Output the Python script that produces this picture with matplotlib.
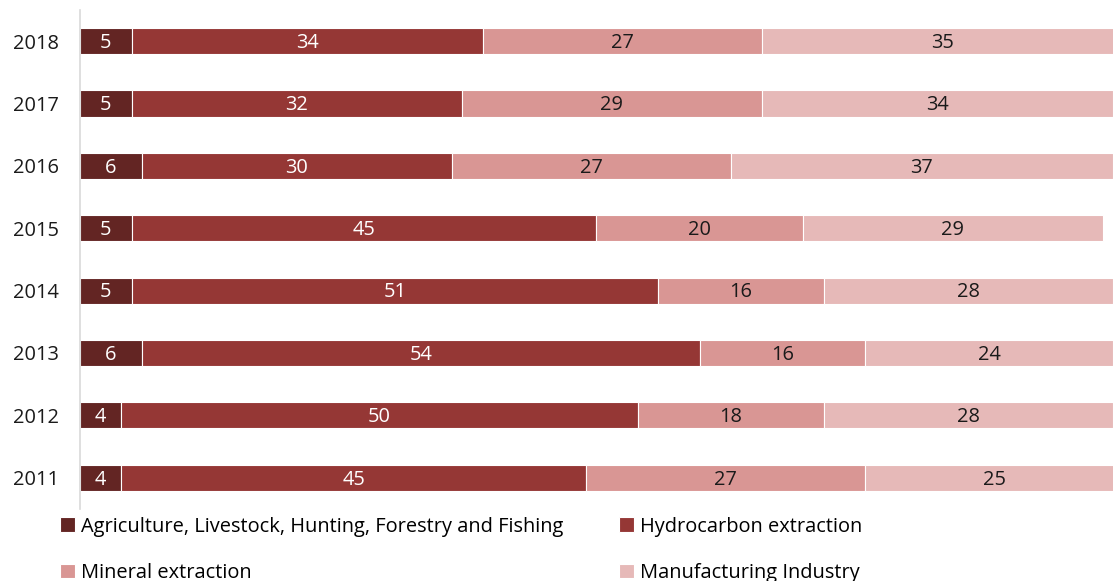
import matplotlib.pyplot as plt
import numpy as np

plt.rcParams['font.family'] = ['Open Sans', 'DejaVu Sans']

years = ['2011', '2012', '2013', '2014', '2015', '2016', '2017', '2018']
agricultura = [4, 4, 6, 5, 5, 6, 5, 5]
hidrocarbonetos = [45, 50, 54, 51, 45, 30, 32, 34]
mineral = [27, 18, 16, 16, 20, 27, 29, 27]
manufatura = [25, 28, 24, 28, 29, 37, 34, 35]

series = [
    ('Agriculture, Livestock, Hunting, Forestry and Fishing', agricultura, '#632523', 'white'),
    ('Hydrocarbon extraction', hidrocarbonetos, '#953735', 'white'),
    ('Mineral extraction', mineral, '#D99694', '#1a1a1a'),
    ('Manufacturing Industry', manufatura, '#E6B9B8', '#1a1a1a'),
]

fs = 14.4

fig = plt.figure(figsize=(11.13, 5.81), dpi=100)
ax = fig.add_axes([0.0719, 0.124, 0.928, 0.859])

y = np.arange(len(years))
left = np.zeros(len(years))
handles = []
for nome, vals, cor, cor_txt in series:
    vals = np.array(vals, dtype=float)
    bars = ax.barh(y, vals, left=left, height=0.42, color=cor, edgecolor='white',
                   linewidth=0.8, label=nome)
    handles.append(bars)
    for b, v in zip(bars, vals):
        ax.text(b.get_x() + b.get_width() / 2, b.get_y() + b.get_height() / 2 - 0.03,
                f'{int(v)}', ha='center', va='center', fontsize=fs, color=cor_txt)
    left += vals

ax.set_xlim(0, 100)
ax.set_ylim(-0.5, 7.5)
ax.set_yticks(y)
ax.set_yticklabels(years, fontsize=fs, color='#1a1a1a')
ax.set_xticks([])
ax.tick_params(axis='y', length=0, pad=15)
for s in ['top', 'right', 'bottom']:
    ax.spines[s].set_visible(False)
ax.spines['left'].set_color('#d9d9d9')
ax.spines['left'].set_linewidth(1.2)

# legenda em duas colunas, preenchida por coluna
ordem = [0, 2, 1, 3]
fig.legend([handles[i] for i in ordem], [series[i][0] for i in ordem],
           loc='upper left', bbox_to_anchor=(0.0536, 0.111), ncol=2, frameon=False,
           fontsize=fs, handlelength=0.75, handleheight=0.75, handletextpad=0.3,
           columnspacing=2.8, labelspacing=1.33, borderaxespad=0, borderpad=0)

fig.savefig('out.png', dpi=100)
